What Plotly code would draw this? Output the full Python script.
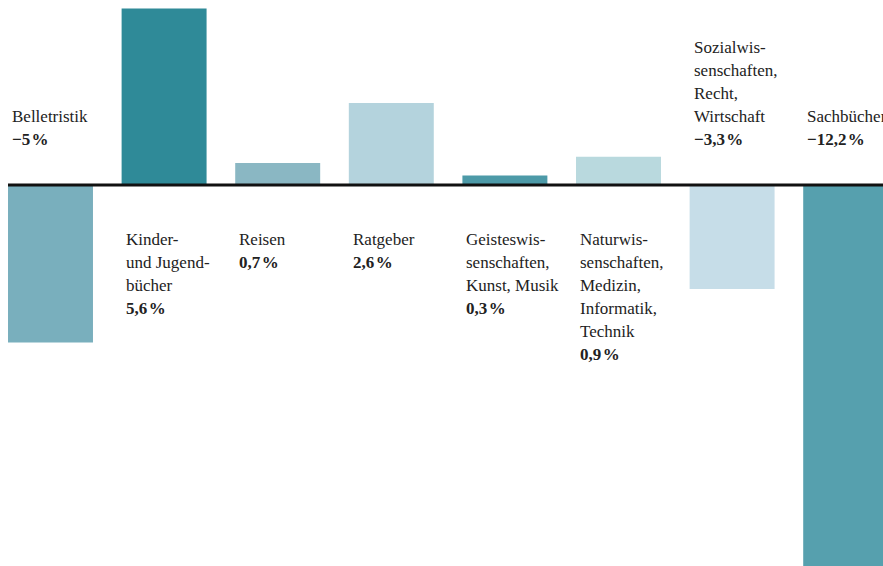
import plotly.graph_objects as go

categories = [
    "Belletristik",
    "Kinder- und Jugendbücher",
    "Reisen",
    "Ratgeber",
    "Geisteswissenschaften, Kunst, Musik",
    "Naturwissenschaften, Medizin, Informatik, Technik",
    "Sozialwissenschaften, Recht, Wirtschaft",
    "Sachbücher",
]
label_lines = [
    ["Belletristik"],
    ["Kinder-", "und Jugend-", "bücher"],
    ["Reisen"],
    ["Ratgeber"],
    ["Geisteswis-", "senschaften,", "Kunst, Musik"],
    ["Naturwis-", "senschaften,", "Medizin,", "Informatik,", "Technik"],
    ["Sozialwis-", "senschaften,", "Recht,", "Wirtschaft"],
    ["Sachbücher"],
]
values = [-5.0, 5.6, 0.7, 2.6, 0.3, 0.9, -3.3, -12.2]
colors = ["#79AFBD", "#2F8A98", "#8AB7C3", "#B4D3DD", "#4D9AA8", "#B9D9DE", "#C6DDE8", "#56A0AE"]

def fmt(v):
    s = ("%.1f" % abs(v)).replace(".", ",")
    if s.endswith(",0"):
        s = s[:-2]
    return ("\u2212" if v < 0 else "") + s + "\u200a%"

bargap = 0.252
half = (1 - bargap) / 2

fig = go.Figure(go.Bar(
    x=list(range(len(categories))),
    y=values,
    marker=dict(color=colors, line=dict(width=0)),
    hoverinfo="skip",
))

FONT = "Liberation Serif, DejaVu Serif, serif"
LH = 23
annotations = []
for i, (lines, v) in enumerate(zip(label_lines, values)):
    texts = lines + ["<b>" + fmt(v) + "</b>"]
    n = len(texts)
    for k, t in enumerate(texts):
        if v >= 0:
            ys = -(54 + LH * k)
        else:
            ys = 46 + LH * (n - 1 - k)
        annotations.append(dict(
            x=i - half, y=0, xref="x", yref="y",
            xanchor="left", yanchor="middle",
            xshift=2, yshift=ys,
            text=t, showarrow=False, align="left",
            font=dict(family=FONT, size=17, color="#222222"),
        ))

fig.add_shape(type="line", xref="x", yref="y",
              x0=-half, x1=8, y0=0, y1=0,
              line=dict(color="#111111", width=3))

fig.update_layout(
    width=883, height=566,
    margin=dict(l=0, r=0, t=0, b=0),
    paper_bgcolor="white", plot_bgcolor="white",
    bargap=bargap,
    showlegend=False,
    annotations=annotations,
    xaxis=dict(range=[-0.4445, 7.3284], visible=False, fixedrange=True),
    yaxis=dict(range=[-12.095, 5.873], visible=False, fixedrange=True),
)

fig.write_html(
    "out.html",
    config={"displayModeBar": False},
    post_script="document.body.style.margin='0';document.body.style.overflow='hidden';",
)
